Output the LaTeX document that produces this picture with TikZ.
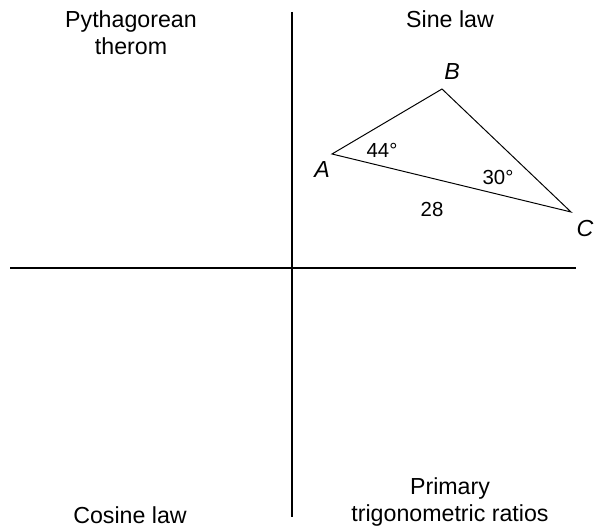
\documentclass[tikz,border=0pt]{standalone}
\usepackage{fontspec}
\setmainfont{Liberation Sans}
\usetikzlibrary{positioning}
\tikzset{
  quadlabel/.style={align=center, font=\fontsize{16.5}{19.3}\selectfont},
  vertex/.style={font=\fontsize{16.5}{19}\selectfont\itshape, inner sep=1pt},
  measure/.style={font=\fontsize{14.5}{17}\selectfont, inner sep=1pt},
  axis/.style={line width=1.4pt},
  side/.style={line width=0.7pt}
}
\begin{document}
\begin{tikzpicture}[x=1cm,y=1cm]
    \useasboundingbox (0,0) rectangle (14.85,13.225);
    \coordinate (top) at (7.3,12.925);
    \coordinate (bottom) at (7.3,0.3);
    \coordinate (left) at (0.25,6.525);
    \coordinate (right) at (14.4,6.525);
    \draw[axis] (top) -- (bottom);
    \draw[axis] (left) -- (right);
    \coordinate (A) at (8.3,9.375);
    \coordinate (B) at (11.05,11.0);
    \coordinate (C) at (14.275,7.925);
    \draw[side] (A) -- (B) -- (C) -- cycle;
    \node[vertex] (labA) at (8.05,8.975) {A};
    \node[vertex] (labB) at (11.3,11.425) {B};
    \node[vertex] (labC) at (14.625,7.5) {C};
    \node[measure] (angA) at (9.55,9.475) {44°};
    \node[measure] (angC) at (12.45,8.8) {30°};
    \node[measure] (sideAC) at (10.8,8.0) {28};
    \node[quadlabel] (pyth) at (3.275,12.41) {Pythagorean\\therom};
    \node[quadlabel] (sine) at (11.25,12.75) {Sine law};
    \node[quadlabel] (cosine) at (3.25,0.34) {Cosine law};
    \node[quadlabel] (primary) at (11.25,0.67) {Primary\\trigonometric ratios};
\end{tikzpicture}
\end{document}
